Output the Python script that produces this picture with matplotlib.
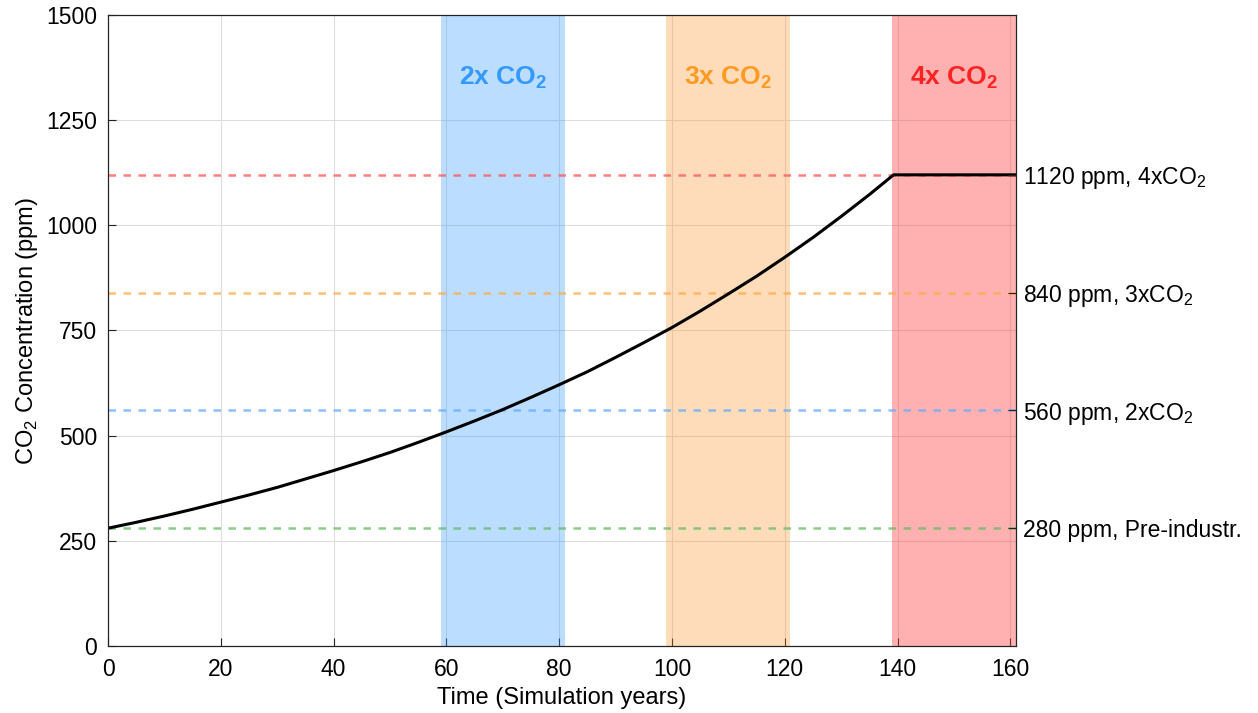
import matplotlib
matplotlib.use("Agg")
import matplotlib.pyplot as plt

plt.rcParams.update({
    'font.family': 'Liberation Sans',
    'mathtext.fontset': 'custom',
    'mathtext.rm': 'Liberation Sans',
    'mathtext.bf': 'Liberation Sans:bold',
    'font.size': 16.5,
})

# CO2 pathway (1%/yr ramp then held at 4x)
years = [0, 5, 10, 15, 20, 25, 30, 35, 40, 45, 50, 55, 60, 65, 70, 75, 80,
         85, 90, 95, 100, 105, 110, 115, 120, 125, 130, 135, 139.3, 161]
co2 = [280, 294, 309, 325, 342, 359, 377, 397, 417, 438, 460, 484, 509, 535, 562, 591, 621,
       652, 686, 721, 757, 796, 837, 879, 924, 971, 1021, 1073, 1120, 1120]

ref_levels = [280, 560, 840, 1120]
ref_labels = ["280 ppm, Pre-industr.", "560 ppm, 2xCO$_2$", "840 ppm, 3xCO$_2$", "1120 ppm, 4xCO$_2$"]
ref_colors = ['#66bb66', '#66aaff', '#ffaa44', '#ff5555']

bands = [(59, 81), (99, 121), (139, 161)]
band_names = ["2x CO$_\\mathbf{2}$", "3x CO$_\\mathbf{2}$", "4x CO$_\\mathbf{2}$"]
band_fill = [(0.2, 0.6, 1.0), (1.0, 0.55, 0.1), (1.0, 0.2, 0.2)]
band_alpha = [0.33, 0.3, 0.38]
band_text = ['#3399ff', '#ff9922', '#ff2222']

fig = plt.figure(figsize=(12.58, 7.13), dpi=100)
ax = fig.add_axes([0.0859, 0.094, 0.7217, 0.885])

ax.grid(True, color='#dddddd', linewidth=0.8)
ax.set_axisbelow(True)

for (x0, x1), fc, al, tc, name in zip(bands, band_fill, band_alpha, band_text, band_names):
    ax.axvspan(x0, x1, color=fc, alpha=al, zorder=1, lw=0)
    ax.text((x0 + x1) / 2, 1350, name, color=tc, fontsize=19, fontweight='bold',
            ha='center', va='center', zorder=4)

for lvl, c in zip(ref_levels, ref_colors):
    ax.plot([0, 161], [lvl, lvl], linestyle=(0, (3, 3)), color=c, alpha=0.75, lw=1.8, zorder=2)

ax.plot(years, co2, color='black', lw=2.2, zorder=3)

ax.set_xlim(0, 161)
ax.set_ylim(0, 1500)
ax.set_xticks(range(0, 161, 20))
ax.set_yticks(range(0, 1501, 250))
ax.tick_params(axis='x', direction='in', length=6, labelsize=16.5, pad=9, color='#222222')
ax.tick_params(axis='y', direction='in', length=6, labelsize=16.5, pad=8, color='#222222')
ax.set_xlabel("Time (Simulation years)", fontsize=17, labelpad=4)
ax.set_ylabel("CO$_2$ Concentration (ppm)", fontsize=17, labelpad=4)

ax2 = ax.twinx()
ax2.set_ylim(0, 1500)
ax2.set_yticks(ref_levels)
ax2.set_yticklabels(ref_labels)
ax2.tick_params(direction='in', length=6, labelsize=16.5, pad=5, color='#222222')

for a in (ax, ax2):
    for s in a.spines.values():
        s.set_color('#222222')
        s.set_zorder(5)

fig.savefig("out.png", dpi=100)
